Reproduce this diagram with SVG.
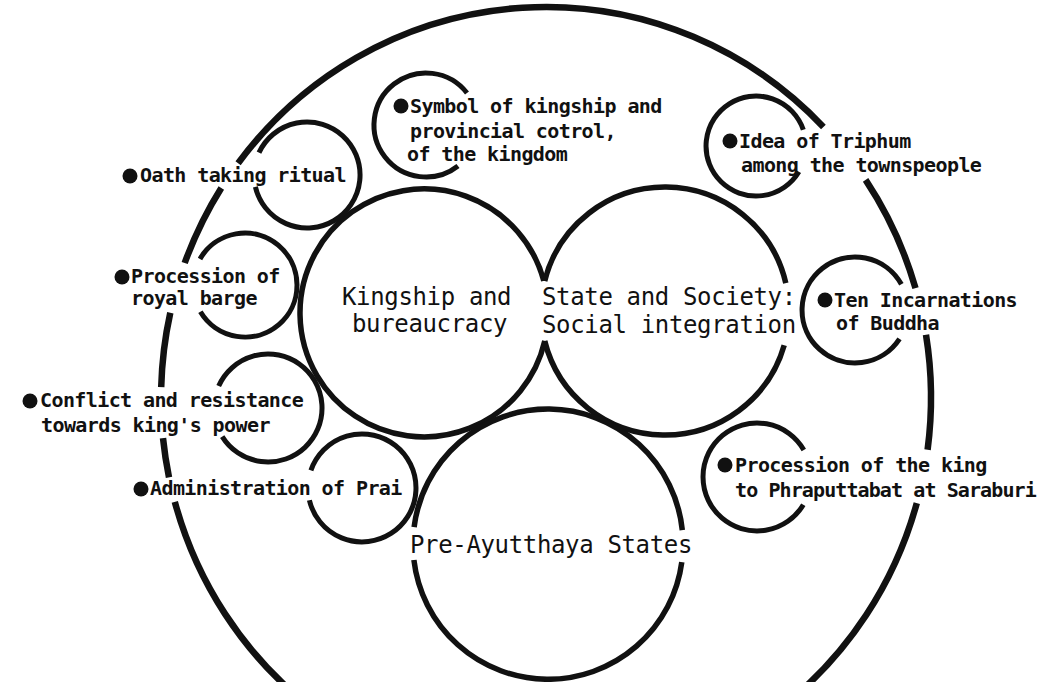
<svg xmlns="http://www.w3.org/2000/svg" width="1043" height="682" viewBox="0 0 1043 682">
<style>
  .ring{fill:none;stroke:#111;stroke-linecap:butt}
  .outer{stroke-width:6.5}
  .main{stroke-width:5.5}
  .small{stroke-width:5}
  .big{font-family:"DejaVu Sans Mono","Liberation Mono",monospace;font-size:24px;letter-spacing:-0.35px;fill:#111}
  .lbl{font-family:"DejaVu Sans Mono","Liberation Mono",monospace;font-size:20px;font-weight:bold;letter-spacing:-0.6px;fill:#111}
  .tight{letter-spacing:-0.9px}
  .dot{fill:#111}
</style>
<rect width="1043" height="682" fill="#fff"/>

<g id="outer-boundary">
  <path class="ring outer" d="M916.8,503.1 A385,391 0 0 1 174.8,501.8"/>
  <path class="ring outer" d="M169,477.3 A385,391 0 0 1 163,438.2"/>
  <path class="ring outer" d="M161.2,387.1 A385,391 0 0 1 170.3,312.7"/>
  <path class="ring outer" d="M184.7,263 A385,391 0 0 1 221.3,187.9"/>
  <path class="ring outer" d="M238.1,163.2 A385,391 0 0 1 823.4,126.9"/>
  <path class="ring outer" d="M865.6,179.9 A385,391 0 0 1 915.5,288.2"/>
  <path class="ring outer" d="M926,334.8 A385,391 0 0 1 927.6,449.7"/>
</g>

<g id="connectors"></g>

<g id="kingship">
  <path class="ring main" d="M544.8,340.9 A124,124 0 1 1 543.8,280.9"/>
  <text class="big" x="342" y="305">Kingship and</text>
  <text class="big" x="352" y="332">bureaucracy</text>
</g>

<g id="state-society">
  <path class="ring main" d="M784.2,345.2 A124,124 0 0 1 544.7,341"/>
  <path class="ring main" d="M544.7,281 A124,124 0 0 1 785.8,283.1"/>
  <text class="big" x="542" y="305">State and Society:</text>
  <text class="big" x="542" y="333">Social integration</text>
</g>

<g id="pre-ayutthaya">
  <path class="ring main" d="M681.8,562.1 A135,135 0 0 1 413.9,560"/>
  <path class="ring main" d="M414.1,527.1 A135,135 0 0 1 682.3,530.1"/>
  <text class="big" x="410" y="553">Pre-Ayutthaya States</text>
</g>

<g id="symbol">
  <path class="ring small" d="M458,166 A52,52 0 1 1 467,93"/>
  <circle class="dot" cx="401" cy="106" r="7.5"/>
  <text class="lbl" x="410" y="113">Symbol of kingship and</text>
  <text class="lbl" x="410" y="138">provincial cotrol,</text>
  <text class="lbl" x="407" y="161">of the kingdom</text>
</g>

<g id="oath">
  <path class="ring small" d="M259,152.6 A53,53 0 1 1 255.4,186.9"/>
  <circle class="dot" cx="130" cy="176" r="7.5"/>
  <text class="lbl" x="140" y="182">Oath taking ritual</text>
</g>

<g id="royal-barge">
  <path class="ring small" d="M200,259 A52,52 0 1 1 200.4,311.8"/>
  <circle class="dot" cx="122" cy="277" r="7.5"/>
  <text class="lbl" x="131" y="283">Procession of</text>
  <text class="lbl" x="131" y="305">royal barge</text>
</g>

<g id="conflict">
  <path class="ring small" d="M218.7,386 A54,54 0 1 1 222.2,436.6"/>
  <circle class="dot" cx="30" cy="401" r="7.5"/>
  <text class="lbl" x="40" y="407">Conflict and resistance</text>
  <text class="lbl" x="41" y="432">towards king's power</text>
</g>

<g id="prai">
  <path class="ring small" d="M310.9,470.4 A54,54 0 1 1 309.4,500.2"/>
  <circle class="dot" cx="141" cy="489" r="7.5"/>
  <text class="lbl" x="150" y="495">Administration of Prai</text>
</g>

<g id="triphum">
  <path class="ring small" d="M798.9,171.8 A50,50 0 1 1 803.3,129.7"/>
  <circle class="dot" cx="730" cy="141" r="7.5"/>
  <text class="lbl" x="739" y="148">Idea of Triphum</text>
  <text class="lbl" x="741" y="172">among the townspeople</text>
</g>

<g id="ten-incarnations">
  <path class="ring small" d="M899.5,338.9 A53,53 0 1 1 901.4,284.3"/>
  <circle class="dot" cx="825" cy="300" r="7.5"/>
  <text class="lbl" x="834" y="307">Ten Incarnations</text>
  <text class="lbl" x="836" y="330">of Buddha</text>
</g>

<g id="saraburi">
  <path class="ring small" d="M803.3,504.8 A54,54 0 1 1 803.8,450"/>
  <circle class="dot" cx="725" cy="465" r="7.5"/>
  <text class="lbl" x="735" y="472">Procession of the king</text>
  <text class="lbl tight" x="735" y="497">to Phraputtabat at Saraburi</text>
</g>
</svg>
